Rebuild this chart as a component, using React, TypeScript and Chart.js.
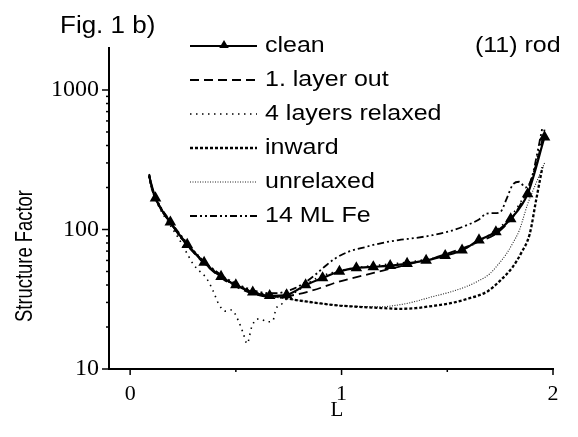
import React, { useEffect, useRef } from 'react';
import { Chart, registerables } from 'chart.js';

Chart.register(...registerables);

// ---------- data ----------
const seriesNames = ['clean', '1. layer out', '4 layers relaxed', 'inward', 'unrelaxed', '14 ML Fe'];

const L_clean = [0.09, 0.12, 0.19, 0.27, 0.35, 0.43, 0.50, 0.58, 0.66, 0.74, 0.83, 0.91, 0.99, 1.07, 1.15, 1.23, 1.31, 1.40, 1.49, 1.57, 1.65, 1.73, 1.80, 1.88, 1.96];
const S_clean = [240, 168, 113, 78, 58, 46, 40, 35.5, 33.5, 34, 40, 45, 50, 53, 54, 55, 57, 60, 65, 71, 84, 96, 119, 180, 460];

const L_out = [0.09, 0.10, 0.12, 0.15, 0.19, 0.23, 0.27, 0.31, 0.35, 0.40, 0.45, 0.50, 0.55, 0.60, 0.65, 0.70, 0.75, 0.80, 0.86, 0.92, 0.96, 1.03, 1.12, 1.20, 1.27, 1.35, 1.43, 1.51, 1.59, 1.65, 1.72, 1.77, 1.81, 1.85, 1.89, 1.93, 1.96];
const S_out = [245, 205, 168, 138, 112, 92, 77, 66, 57, 49, 43, 39, 36, 34, 33, 33, 33.5, 34.5, 36.5, 39, 41, 44, 47.5, 51, 54, 58, 62, 68, 75, 82, 91, 105, 123, 155, 212, 330, 520];

const L_rel = [0.09, 0.10, 0.12, 0.15, 0.19, 0.23, 0.27, 0.30, 0.33, 0.36, 0.39, 0.42, 0.45, 0.48, 0.51, 0.535, 0.553, 0.575, 0.60, 0.625, 0.65, 0.675, 0.69, 0.72, 0.75, 0.80, 0.85, 0.90, 1.00, 1.10, 1.20, 1.30, 1.40, 1.50, 1.60, 1.70, 1.78, 1.85, 1.90, 1.95];
const S_rel = [240, 200, 165, 133, 107, 86, 67, 56, 50, 45, 37, 29, 26, 26.5, 22.5, 18, 15.2, 20, 22.8, 22.5, 21.8, 22.2, 27, 29.5, 33, 37, 42, 46, 51, 54, 56, 58, 61, 66, 75, 92, 115, 160, 230, 480];

const L_in = [0.09, 0.10, 0.12, 0.15, 0.19, 0.23, 0.27, 0.31, 0.35, 0.40, 0.45, 0.50, 0.55, 0.60, 0.65, 0.70, 0.77, 0.83, 0.90, 0.99, 1.10, 1.20, 1.27, 1.35, 1.43, 1.51, 1.60, 1.69, 1.75, 1.81, 1.85, 1.89, 1.92, 1.95];
const S_in = [245, 205, 168, 137, 112, 92, 78, 67, 58, 50, 44, 40, 37, 35, 34, 33, 31.5, 30.5, 29.5, 28.5, 27.8, 27.3, 27, 27.3, 28.3, 29.5, 32, 36, 43, 54, 68, 93, 162, 280];

const L_un = [0.09, 0.10, 0.12, 0.15, 0.19, 0.23, 0.27, 0.31, 0.35, 0.40, 0.45, 0.50, 0.55, 0.60, 0.65, 0.70, 0.80, 0.90, 1.00, 1.10, 1.18, 1.25, 1.33, 1.43, 1.51, 1.59, 1.65, 1.70, 1.74, 1.78, 1.81, 1.84, 1.88, 1.92, 1.96];
const S_un = [242, 203, 166, 136, 111, 91, 77, 66, 57, 49.5, 43.5, 39.5, 36.5, 34.5, 33.5, 32.5, 31, 29.5, 28.5, 28, 27.9, 28.5, 30, 33, 35.5, 39, 43, 48, 56, 67, 80, 98, 152, 215, 300];

const L_fe = [0.09, 0.10, 0.12, 0.15, 0.19, 0.23, 0.27, 0.31, 0.35, 0.40, 0.45, 0.50, 0.55, 0.60, 0.65, 0.70, 0.735, 0.78, 0.83, 0.88, 0.925, 0.97, 1.03, 1.115, 1.19, 1.27, 1.35, 1.43, 1.51, 1.59, 1.65, 1.685, 1.72, 1.75, 1.78, 1.81, 1.84, 1.87, 1.89, 1.905, 1.93, 1.95];
const S_fe = [250, 210, 172, 140, 115, 95, 80, 68, 59, 51, 45, 41, 38, 36, 35, 35, 36, 38, 42, 48, 55, 62, 69, 75, 80, 84, 87, 91, 97, 107, 118, 130, 131, 133, 165, 210, 220, 200, 215, 252, 380, 540];

const xTickValues = [0, 1, 2];
const xTickLabels = ['0', '1', '2'];
const xMinorTicks = [0.5, 1.5];
const yMajorTicks = [10, 100, 1000];
const yMinorTicks = [20, 30, 40, 50, 60, 70, 80, 90, 200, 300, 400, 500, 600, 700, 800, 900];

const figLabel = 'Fig. 1 b)';
const rodLabel = '(11) rod';
const yTitle = 'Structure Factor';
const xTitle = 'L';

// ---------- helpers ----------
const SANS = '"Liberation Sans", Arial, Helvetica, sans-serif';
const SERIF = '"Liberation Serif", "Times New Roman", serif';

const pts = (xs: number[], ys: number[]) => xs.map((x, i) => ({ x, y: ys[i] }));

function drawText(ctx: CanvasRenderingContext2D, text: string, x: number, y: number, size: number, family: string, sx: number, sy: number, align: CanvasTextAlign, rot = 0) {
  ctx.save();
  ctx.translate(x, y);
  if (rot) ctx.rotate(rot);
  ctx.scale(sx, sy);
  ctx.font = `${size}px ${family}`;
  ctx.textAlign = align;
  ctx.textBaseline = 'middle';
  ctx.fillStyle = '#000';
  ctx.fillText(text, 0, 0);
  ctx.restore();
}

function triangle(ctx: CanvasRenderingContext2D, x: number, y: number, r: number) {
  ctx.beginPath();
  ctx.moveTo(x, y - r);
  ctx.lineTo(x + r * 0.95, y + r * 0.6);
  ctx.lineTo(x - r * 0.95, y + r * 0.6);
  ctx.closePath();
  ctx.fill();
}

const decorPlugin = {
  id: 'decor',
  afterDraw(chart: any) {
    const ctx: CanvasRenderingContext2D = chart.ctx;
    const xs = chart.scales.x;
    const ys = chart.scales.y;
    const { left, bottom } = chart.chartArea;
    ctx.save();
    ctx.strokeStyle = '#000';
    ctx.fillStyle = '#000';
    ctx.lineWidth = 1.5;
    // y ticks
    const yt = [...yMajorTicks.map((v) => [v, 7]), ...yMinorTicks.map((v) => [v, 3])];
    yt.forEach(([v, len]) => {
      const py = ys.getPixelForValue(v);
      ctx.beginPath();
      ctx.moveTo(left - len, py);
      ctx.lineTo(left, py);
      ctx.stroke();
    });
    // x ticks
    const xt = [...xTickValues.map((v) => [v, 6]), ...xMinorTicks.map((v) => [v, 3])];
    xt.forEach(([v, len]) => {
      const px = xs.getPixelForValue(v);
      ctx.beginPath();
      ctx.moveTo(px, bottom);
      ctx.lineTo(px, bottom + len);
      ctx.stroke();
    });
    // legend
    chart.data.datasets.forEach((ds: any, i: number) => {
      const y = 46 + i * 34;
      ctx.save();
      ctx.setLineDash(ds.borderDash || []);
      ctx.lineWidth = ds.borderWidth;
      ctx.strokeStyle = ds.borderColor;
      ctx.beginPath();
      ctx.moveTo(190, y);
      ctx.lineTo(257, y);
      ctx.stroke();
      ctx.restore();
      if (ds.pointStyle === 'triangle') triangle(ctx, 224, y - 1, 5);
      drawText(ctx, ds.label, 265, y, 25, SANS, 1, 0.9, 'left');
    });
    // annotations
    drawText(ctx, figLabel, 60, 27, 26, SANS, 1, 0.9, 'left');
    drawText(ctx, rodLabel, 475, 46, 25, SANS, 1, 0.9, 'left');
    drawText(ctx, yTitle, 26, 256, 23, SANS, 0.8, 1, 'center', -Math.PI / 2);
    drawText(ctx, xTitle, 337, 410, 21, SERIF, 1, 1, 'center');
    ctx.restore();
  },
};

export default function App() {
  const ref = useRef<HTMLCanvasElement | null>(null);

  useEffect(() => {
    if (!ref.current) return;
    const base = { fill: false, pointRadius: 0, cubicInterpolationMode: 'monotone' as const, borderColor: '#000', backgroundColor: '#000', order: 1 };
    const chart = new Chart(ref.current, {
      type: 'line',
      data: {
        datasets: [
          { ...base, label: seriesNames[0], data: pts(L_clean, S_clean), borderWidth: 2.2, borderDash: [], pointStyle: 'triangle', pointRadius: (c: any) => (c.dataIndex === 0 ? 0 : 4.5), order: 0 },
          { ...base, label: seriesNames[1], data: pts(L_out, S_out), borderWidth: 1.8, borderDash: [9, 5] },
          { ...base, label: seriesNames[2], data: pts(L_rel, S_rel), borderWidth: 1.6, borderDash: [1.5, 4.5] },
          { ...base, label: seriesNames[3], data: pts(L_in, S_in), borderWidth: 2.3, borderDash: [3, 2] },
          { ...base, label: seriesNames[4], data: pts(L_un, S_un), borderWidth: 1.1, borderDash: [1, 1.5], borderColor: '#222' },
          { ...base, label: seriesNames[5], data: pts(L_fe, S_fe), borderWidth: 1.8, borderDash: [7, 3, 2, 3, 2, 3] },
        ] as any,
      },
      options: {
        responsive: false,
        animation: false,
        devicePixelRatio: 1,
        layout: { padding: { left: 0, top: 48, right: 25, bottom: 0 } },
        plugins: { legend: { display: false }, tooltip: { enabled: false }, title: { display: false } },
        scales: {
          x: {
            type: 'linear',
            min: -0.1,
            max: 2,
            grid: { display: false, drawTicks: false },
            border: { display: true, color: '#000', width: 2 },
            afterBuildTicks: (s: any) => { s.ticks = xTickValues.map((v) => ({ value: v })); },
            afterFit: (s: any) => { s.height = 68; },
            ticks: {
              autoSkip: false,
              maxRotation: 0,
              padding: 12,
              color: '#000',
              font: { family: SERIF, size: 22 },
              callback: (v: any) => { const i = xTickValues.indexOf(Number(v)); return i >= 0 ? xTickLabels[i] : ''; },
            },
          },
          y: {
            type: 'logarithmic',
            min: 10,
            max: 2000,
            grid: { display: false, drawTicks: false },
            border: { display: true, color: '#000', width: 2 },
            afterBuildTicks: (s: any) => { s.ticks = [...yMajorTicks, ...yMinorTicks].sort((a, b) => a - b).map((v) => ({ value: v })); },
            afterFit: (s: any) => { s.width = 109; },
            ticks: {
              autoSkip: false,
              padding: 10,
              color: '#000',
              font: { family: SERIF, size: 24 },
              callback: (v: any) => (yMajorTicks.includes(Number(v)) ? String(v) : ''),
            },
          },
        },
      } as any,
      plugins: [decorPlugin],
    });
    return () => chart.destroy();
  }, []);

  return (
    <div style={{ position: 'absolute', left: 0, top: 0, width: 578, height: 437, background: '#fff' }}>
      <canvas ref={ref} width={578} height={437} style={{ display: 'block' }} />
    </div>
  );
}
